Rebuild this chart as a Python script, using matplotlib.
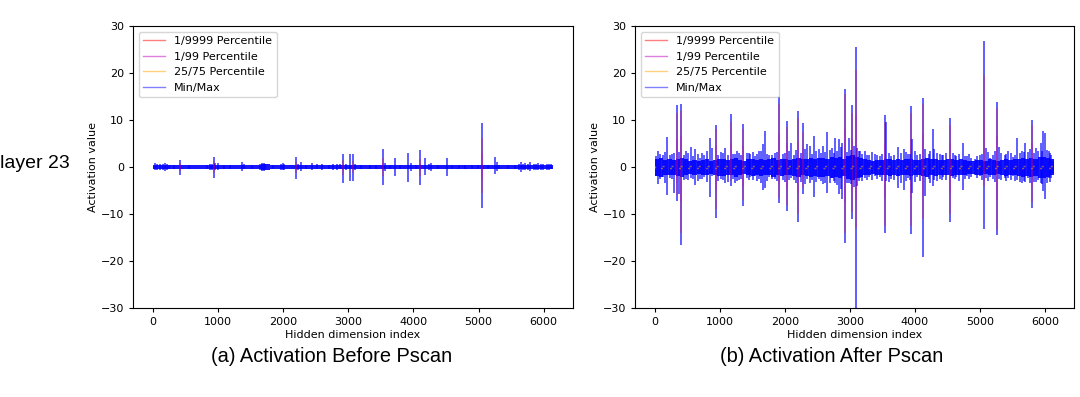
import matplotlib
matplotlib.use('Agg')
import matplotlib.pyplot as plt
from matplotlib.lines import Line2D
import numpy as np

N_DIMS = 6144
Q_STEP = 512

# ---- (a) before pscan ----
# thin core band, one value per 128 dims
before_band_hi = [0.45, 0.5, 0.38, 0.4, 0.35, 0.35, 0.4, 0.45, 0.4, 0.35, 0.45, 0.38,
                  0.38, 0.55, 0.38, 0.5, 0.38, 0.45, 0.38, 0.45, 0.4, 0.45, 0.5, 0.45,
                  0.4, 0.38, 0.38, 0.5, 0.4, 0.4, 0.45, 0.4, 0.5, 0.45, 0.38, 0.4,
                  0.35, 0.35, 0.38, 0.38, 0.38, 0.45, 0.35, 0.38, 0.5, 0.45, 0.5, 0.45]
before_band_lo = [-0.45, -0.5, -0.38, -0.4, -0.35, -0.35, -0.4, -0.45, -0.4, -0.35, -0.45, -0.38,
                  -0.38, -0.55, -0.38, -0.5, -0.38, -0.45, -0.38, -0.45, -0.4, -0.45, -0.5, -0.45,
                  -0.4, -0.38, -0.38, -0.5, -0.4, -0.4, -0.45, -0.4, -0.5, -0.45, -0.38, -0.4,
                  -0.35, -0.35, -0.38, -0.38, -0.38, -0.45, -0.35, -0.38, -0.5, -0.45, -0.5, -0.45]
before_q75 = [0.12, 0.1, 0.1, 0.12, 0.1, 0.1, 0.12, 0.1, 0.1, 0.12, 0.1, 0.1]
before_q25 = [-0.12, -0.1, -0.1, -0.12, -0.1, -0.1, -0.12, -0.1, -0.1, -0.12, -0.1, -0.1]

before_dims = [30, 60, 110, 160, 190, 215, 250, 330, 412, 560, 830, 870, 905, 931, 960,
               1000, 1090, 1180, 1374, 1400, 1520, 1650, 1680, 1700, 1720, 1850, 1960, 1990,
               2010, 2198, 2230, 2275, 2350, 2443, 2520, 2595, 2700, 2763, 2830, 2880, 2916,
               2960, 3023, 3069, 3110, 3200, 3330, 3420, 3527, 3560, 3640, 3725, 3800, 3924,
               3960, 4040, 4107, 4183, 4240, 4275, 4380, 4519, 4600, 4700, 4800, 4900, 4990,
               5053, 5150, 5252, 5280, 5320, 5450, 5560, 5620, 5659, 5690, 5720, 5760, 5790,
               5850, 5890, 5920, 5960, 5990, 6050, 6080, 6110]
before_max = [0.8, 0.6, 0.6, 0.7, 0.9, 0.6, 0.5, 0.4, 1.5, 0.4, 0.5, 0.6, 0.7, 2.2, 0.8,
              0.9, 0.5, 0.4, 1.0, 0.6, 0.4, 0.6, 0.8, 0.9, 0.6, 0.4, 0.6, 0.8,
              0.7, 2.2, 0.7, 1.1, 0.5, 0.8, 0.6, 0.7, 0.5, 0.7, 0.6, 0.6, 2.7,
              0.6, 2.7, 2.7, 0.6, 0.4, 0.5, 0.4, 3.9, 0.9, 0.5, 2.0, 0.4, 2.9,
              0.9, 0.5, 3.7, 1.9, 0.6, 0.9, 0.4, 2.0, 0.4, 0.4, 0.4, 0.4, 0.4,
              9.4, 0.4, 2.2, 1.0, 0.5, 0.4, 0.5, 0.7, 1.0, 0.6, 0.8, 0.6, 1.0,
              0.7, 0.6, 0.8, 0.6, 0.7, 0.7, 0.6, 0.6]
before_min = [-0.7, -0.6, -0.6, -0.6, -0.8, -0.6, -0.5, -0.4, -1.8, -0.4, -0.5, -0.6, -0.7, -2.4, -0.7,
              -0.7, -0.5, -0.4, -0.9, -0.5, -0.4, -0.6, -0.8, -0.8, -0.5, -0.4, -0.6, -0.7,
              -0.6, -2.6, -0.6, -0.9, -0.5, -0.7, -0.5, -0.6, -0.5, -0.6, -0.6, -0.5, -3.3,
              -0.6, -2.9, -2.9, -0.6, -0.4, -0.4, -0.4, -3.9, -0.8, -0.5, -2.0, -0.4, -3.2,
              -0.8, -0.5, -3.8, -1.6, -0.6, -0.8, -0.4, -2.0, -0.4, -0.4, -0.4, -0.4, -0.4,
              -8.7, -0.4, -1.4, -0.8, -0.5, -0.4, -0.5, -0.6, -1.1, -0.6, -0.6, -0.6, -0.9,
              -0.7, -0.6, -0.7, -0.6, -0.6, -0.6, -0.6, -0.5]
before_out_dims = [412, 931, 2198, 2916, 3069, 3527, 4107, 5053]
before_p9999_hi = [0.8, 1.2, 1.0, 1.5, 1.2, 2.0, 1.8, 6.2]
before_p9999_lo = [-0.9, -1.3, -1.2, -1.6, -1.3, -2.0, -1.9, -5.6]
before_p99_hi = [0.4, 0.5, 0.5, 0.6, 0.5, 0.8, 0.7, 3.0]
before_p99_lo = [-0.4, -0.5, -0.5, -0.6, -0.5, -0.8, -0.7, -2.8]

# ---- (b) after pscan ----
# dense core band, one value per 64 dims
after_band_hi = [1.6, 1.9, 1.4, 1.7, 1.5, 1.8, 2.0, 1.6, 1.3, 1.5, 1.2, 1.4, 1.6, 1.3, 1.5, 1.8,
                 1.7, 1.4, 1.6, 1.9, 1.5, 1.3, 1.6, 1.8, 1.4, 1.7, 1.5, 1.6, 1.9, 1.5, 1.8, 1.6,
                 1.5, 1.7, 1.9, 1.6, 1.8, 2.0, 1.7, 1.9, 2.0, 1.8, 2.1, 1.9, 2.2, 1.8, 2.3, 2.5,
                 2.2, 1.9, 1.6, 1.4, 1.3, 1.5, 1.4, 1.6, 1.8, 1.5, 1.7, 1.4, 1.6, 1.8, 1.5, 1.4,
                 1.7, 1.9, 1.6, 1.8, 1.5, 1.4, 1.6, 1.7, 1.5, 1.6, 1.4, 1.3, 1.2, 1.4, 1.5, 1.3,
                 1.6, 1.4, 1.3, 1.5, 1.7, 1.4, 1.6, 1.8, 1.9, 1.7, 2.0, 1.8, 2.1, 2.2, 1.9, 1.6]
after_band_lo = [-1.9, -2.1, -1.7, -1.8, -1.6, -2.0, -2.2, -1.8, -1.5, -1.7, -1.4, -1.6, -1.8, -1.5, -1.7, -2.0,
                 -1.9, -1.6, -1.8, -2.1, -1.7, -1.5, -1.8, -2.0, -1.6, -1.9, -1.7, -1.8, -2.1, -1.7, -2.0, -1.8,
                 -1.7, -1.9, -2.1, -1.8, -2.0, -2.2, -1.9, -2.1, -2.2, -2.0, -2.3, -2.1, -2.4, -2.0, -2.5, -2.7,
                 -2.4, -2.1, -1.8, -1.6, -1.5, -1.7, -1.6, -1.8, -2.0, -1.7, -1.9, -1.6, -1.8, -2.0, -1.7, -1.6,
                 -1.9, -2.1, -1.8, -2.0, -1.7, -1.6, -1.8, -1.9, -1.7, -1.8, -1.6, -1.5, -1.4, -1.6, -1.7, -1.5,
                 -1.8, -1.6, -1.5, -1.7, -1.9, -1.6, -1.8, -2.0, -2.1, -1.9, -2.2, -2.0, -2.3, -2.4, -2.1, -1.8]
after_q75 = [0.25, 0.2, 0.22, 0.25, 0.2, 0.22, 0.25, 0.2, 0.22, 0.25, 0.2, 0.22]
after_q25 = [-0.25, -0.2, -0.22, -0.25, -0.2, -0.22, -0.25, -0.2, -0.22, -0.25, -0.2, -0.22]

after_dims = [20, 49, 120, 187, 260, 300, 340, 375, 406, 470, 549, 621, 690, 760, 851, 882,
              943, 1010, 1085, 1167, 1230, 1290, 1361, 1410, 1470, 1540, 1600, 1668, 1693,
              1760, 1847, 1913, 1970, 2035, 2100, 2204, 2281, 2340, 2380, 2444, 2520, 2590,
              2654, 2720, 2777, 2833, 2880, 2930, 2990, 3039, 3088, 3110, 3160, 3226, 3300,
              3390, 3460, 3533, 3560, 3640, 3737, 3829, 3890, 3942, 3960, 4040, 4120, 4160,
              4210, 4273, 4300, 4380, 4430, 4540, 4580, 4640, 4738, 4800, 4860, 4920, 5000,
              5065, 5090, 5160, 5260, 5290, 5380, 5440, 5510, 5576, 5620, 5700, 5740, 5796,
              5860, 5900, 5940, 5974, 6010, 6060, 6100, 6127]
after_max = [2.4, 3.4, 2.5, 6.3, 2.8, 3.0, 13.1, 3.2, 13.3, 3.4, 4.2, 3.8, 2.0, 2.6, 6.2, 4.1,
             9.0, 3.2, 4.1, 11.2, 2.8, 3.0, 9.1, 3.0, 2.7, 2.3, 3.4, 4.8, 7.7,
             2.6, 3.0, 14.8, 2.7, 9.8, 5.2, 11.9, 9.3, 4.8, 4.4, 6.6, 3.8, 4.4,
             7.4, 4.1, 6.2, 5.9, 5.0, 16.6, 6.2, 13.2, 25.6, 4.1, 3.5, 3.4, 2.6,
             2.7, 2.4, 11.1, 9.5, 2.4, 4.3, 3.8, 2.8, 12.9, 5.9, 2.6, 14.7, 3.8,
             2.8, 8.0, 3.8, 2.8, 2.6, 10.4, 3.0, 2.4, 5.2, 2.3, 2.0, 1.8, 2.6,
             26.8, 4.1, 2.0, 13.8, 4.2, 2.6, 3.4, 2.2, 6.2, 3.0, 5.2, 3.2, 10.1,
             4.1, 3.4, 5.0, 7.7, 7.3, 3.4, 2.6, 1.3]
after_min = [-2.0, -3.7, -2.2, -5.9, -2.6, -5.5, -7.2, -5.8, -16.5, -2.5, -2.4, -3.9, -2.5, -2.2, -6.3, -2.0,
             -10.8, -2.6, -3.3, -4.1, -3.5, -2.8, -8.4, -2.4, -2.2, -2.0, -2.6, -4.8, -4.5,
             -2.2, -2.6, -7.6, -2.8, -9.4, -2.4, -11.7, -5.8, -2.5, -3.5, -6.4, -2.6, -3.7,
             -5.5, -2.4, -3.4, -5.8, -6.9, -16.1, -3.4, -11.0, -30.5, -4.0, -2.4, -2.3, -2.2,
             -2.0, -2.2, -14.1, -3.0, -2.6, -4.4, -4.8, -2.4, -14.3, -5.5, -2.2, -19.1, -6.2,
             -2.6, -4.0, -2.8, -2.6, -2.2, -11.8, -2.4, -2.2, -4.8, -2.0, -2.2, -1.6, -2.0,
             -13.1, -2.4, -2.1, -14.5, -2.6, -2.4, -2.4, -2.0, -2.8, -3.1, -3.1, -2.4, -8.7,
             -3.1, -2.8, -3.5, -5.1, -6.9, -2.3, -2.4, -1.2]
# small excursions around the core band
after_fuzz_dims = [80, 150, 225, 440, 510, 585, 655, 725, 800, 975, 1050, 1120, 1200, 1260,
                   1320, 1440, 1505, 1570, 1635, 1725, 1800, 1880, 2000, 2070, 2140, 2170, 2240,
                   2310, 2410, 2480, 2555, 2620, 2690, 2750, 2805, 2860, 2960, 3010, 3060, 3135,
                   3190, 3260, 3340, 3420, 3500, 3600, 3680, 3780, 3860, 3920, 4000, 4080, 4240,
                   4340, 4410, 4480, 4610, 4680, 4770, 4840, 4960, 5030, 5120, 5200, 5230, 5330,
                   5410, 5480, 5540, 5650, 5680, 5770, 5830, 5960, 6040, 6080]
after_fuzz_max = [2.8, 3.2, 2.5, 2.6, 3.0, 2.4, 2.7, 2.9, 3.3, 2.6, 3.0, 2.5, 2.8, 3.4,
                  2.6, 2.9, 3.1, 2.7, 3.5, 2.8, 2.5, 3.2, 2.9, 3.3, 2.6, 3.6, 3.0,
                  3.8, 2.7, 3.4, 3.0, 3.2, 3.7, 2.9, 3.5, 4.2, 3.1, 3.6, 4.5, 3.3,
                  2.8, 2.6, 3.1, 2.5, 2.7, 3.0, 2.6, 2.9, 3.2, 2.8, 3.4, 2.7, 3.5,
                  2.9, 2.6, 3.0, 2.5, 2.8, 2.4, 2.7, 2.3, 2.8, 3.1, 2.6, 3.4, 2.9,
                  2.7, 3.0, 2.6, 3.5, 3.2, 3.8, 2.9, 3.3, 3.6, 3.0]
after_fuzz_min = [-2.6, -3.4, -2.4, -2.8, -2.7, -2.5, -3.0, -2.6, -3.1, -2.9, -2.7, -3.2, -2.6, -3.0,
                  -2.5, -2.8, -2.7, -3.0, -3.3, -2.9, -2.6, -3.0, -3.2, -2.8, -2.7, -3.4, -3.1,
                  -3.6, -2.8, -3.2, -2.9, -3.5, -3.3, -3.0, -3.8, -4.6, -3.3, -3.7, -4.2, -3.0,
                  -2.9, -2.7, -2.8, -2.6, -2.9, -3.1, -2.8, -3.3, -3.0, -2.7, -3.2, -2.9, -3.4,
                  -3.0, -2.7, -2.8, -2.6, -2.9, -2.5, -2.6, -2.4, -2.7, -2.9, -2.5, -3.1, -2.8,
                  -2.9, -2.7, -3.0, -3.4, -3.0, -3.5, -3.2, -3.6, -3.4, -3.1]
after_out_dims = [340, 406, 943, 1167, 1361, 1913, 2035, 2204, 2281, 2930, 3039, 3088,
                  3533, 3942, 4120, 4540, 5065, 5260, 5796]
after_p9999_hi = [11.5, 12.0, 8.0, 9.5, 8.0, 13.5, 8.5, 10.5, 7.5, 15.5, 11.5, 20.7,
                  9.5, 11.5, 13.5, 9.0, 19.5, 12.5, 9.0]
after_p9999_lo = [-6.0, -14.0, -9.0, -3.0, -7.0, -6.5, -8.0, -10.0, -4.5, -14.0, -9.5, -13.0,
                  -12.5, -12.5, -11.0, -10.0, -4.0, -13.5, -7.5]
after_p99_hi = [6.0, 6.5, 4.5, 5.0, 4.5, 7.0, 5.0, 5.5, 4.0, 8.0, 6.0, 11.0,
                5.0, 6.0, 7.0, 5.0, 10.0, 6.5, 5.0]
after_p99_lo = [-3.5, -7.5, -5.0, -2.0, -4.0, -3.5, -4.5, -5.5, -2.5, -7.5, -5.0, -7.0,
                -6.5, -6.5, -6.0, -5.5, -2.5, -7.0, -4.0]

q_edges = np.arange(0, N_DIMS + 1, Q_STEP)
FS = 8


def plot_panel(ax, band_hi, band_lo, q_hi, q_lo, dims, vmax, vmin,
               out_dims, p9999_hi, p9999_lo, p99_hi, p99_lo, q_z=1):
    band_edges = np.linspace(0, N_DIMS, len(band_hi) + 1)
    ax.stairs(band_hi, band_edges, baseline=band_lo, fill=True,
              color='b', alpha=0.9, lw=0, zorder=2)
    ax.vlines(dims, vmin, vmax, color='b', alpha=0.8, lw=1.1, zorder=2)
    ax.vlines(out_dims, p9999_lo, p9999_hi, color='r', alpha=0.3, lw=1.1, zorder=2)
    ax.vlines(out_dims, p99_lo, p99_hi, color='m', alpha=0.3, lw=1.1, zorder=2)
    ax.stairs(q_hi, q_edges, baseline=q_lo, fill=False,
              color='orange', alpha=0.55, lw=1, linestyle=(0, (1.5, 5)), zorder=q_z)

    ax.set_xlim(-307, 6450)
    ax.set_ylim(-30, 30)
    ax.set_xticks(range(0, 6001, 1000))
    ax.set_yticks(range(-30, 31, 10))
    ax.tick_params(labelsize=FS, length=3)
    ax.set_xlabel('Hidden dimension index', fontsize=FS, labelpad=2)
    ax.set_ylabel('Activation value', fontsize=FS, labelpad=2)
    handles = [Line2D([], [], color='r', alpha=0.5, lw=1),
               Line2D([], [], color='m', alpha=0.5, lw=1),
               Line2D([], [], color='orange', alpha=0.5, lw=1),
               Line2D([], [], color='b', alpha=0.5, lw=1)]
    ax.legend(handles, ['1/9999 Percentile', '1/99 Percentile',
                        '25/75 Percentile', 'Min/Max'],
              loc='upper left', fontsize=FS)


fig = plt.figure(figsize=(10.8, 3.97), dpi=100)
ax1 = fig.add_axes([0.1231, 0.2242, 0.4074, 0.7103])
ax2 = fig.add_axes([0.588, 0.2242, 0.4065, 0.7103])

plot_panel(ax1, before_band_hi, before_band_lo, before_q75, before_q25,
           before_dims, before_max, before_min, before_out_dims,
           before_p9999_hi, before_p9999_lo, before_p99_hi, before_p99_lo, q_z=1)
plot_panel(ax2, after_band_hi, after_band_lo, after_q75, after_q25,
           after_dims, after_max, after_min, after_out_dims,
           after_p9999_hi, after_p9999_lo, after_p99_hi, after_p99_lo, q_z=3)
ax2.vlines(after_fuzz_dims, after_fuzz_min, after_fuzz_max, color='b', alpha=0.8, lw=1.1)

cap = ['Liberation Sans', 'DejaVu Sans']
fig.text(0.0, 0.589, 'layer 23', fontsize=14, family=cap, va='center', ha='left')
fig.text(0.307, 0.103, '(a) Activation Before Pscan', fontsize=14.4, family=cap,
         va='center', ha='center')
fig.text(0.770, 0.103, '(b) Activation After Pscan', fontsize=14.4, family=cap,
         va='center', ha='center')

fig.savefig('out.png', dpi=100)
